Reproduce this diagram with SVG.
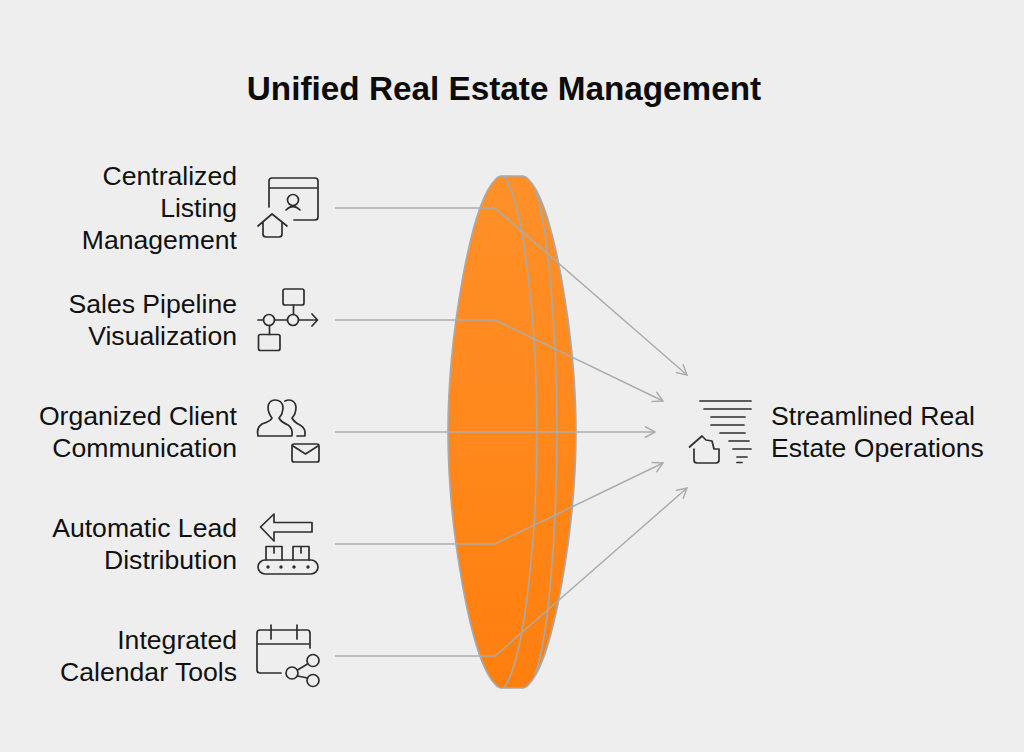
<svg xmlns="http://www.w3.org/2000/svg" width="1024" height="752" viewBox="0 0 1024 752">
<style>
.t{font-family:"Liberation Sans",Arial,sans-serif;font-size:26.6px;fill:#111}
.r{text-anchor:end}
.i{fill:none;stroke:#2e2e2e;stroke-width:1.7;stroke-linecap:round;stroke-linejoin:round}
.c{fill:none;stroke:#acacac;stroke-width:1.5}
.l{fill:none;stroke:#a9a9a5;stroke-width:1.6}
</style>
<defs>
<linearGradient id="g" x1="0" y1="0" x2="0" y2="1"><stop offset="0" stop-color="#ff9029"/><stop offset="1" stop-color="#ff7f0e"/></linearGradient>
<marker id="a" markerWidth="14" markerHeight="14" refX="11" refY="6" orient="auto" markerUnits="userSpaceOnUse"><path d="M1 0.5L11 6L1 11.5" fill="none" stroke="#acacac" stroke-width="1.5"/></marker>
</defs>
<rect width="1024" height="752" fill="#eeeeee"/>
<text x="504" y="99.500" text-anchor="middle" font-family="'Liberation Sans',Arial,sans-serif" font-size="33.3" font-weight="700" fill="#0c0c0c">Unified Real Estate Management</text>
<g id="lens">
<path d="M502 176H522Q526 176 529 180C554 205 576 340 576 432C576 524 554 659 529 684Q526 688 522 688H502Q498 688 495 684C470 659 448 524 448 432C448 340 470 205 495 180Q498 176 502 176Z" fill="url(#g)" stroke="#a9a9a9" stroke-width="1.6"/>
<path class="l" d="M504 176C525 205 537 330 537 432C537 534 525 659 504 688"/>
<path class="l" d="M535 190C549 225 557 340 557 432C557 524 549 639 535 674"/>
</g>
<g id="connectors">
<path class="c" d="M335 208H495L687 375" marker-end="url(#a)"/>
<path class="c" d="M335 320H495L663 401" marker-end="url(#a)"/>
<path class="c" d="M335 432H655" marker-end="url(#a)"/>
<path class="c" d="M335 544H495L663 463" marker-end="url(#a)"/>
<path class="c" d="M335 656H495L687 488" marker-end="url(#a)"/>
</g>
<g id="node-listing">
<text class="t r" x="237" y="184.600">Centralized</text>
<text class="t r" x="237" y="216.600">Listing</text>
<text class="t r" x="237" y="248.600">Management</text>
<path class="i" d="M269 207V181Q269 178 272 178H315Q318 178 318 181V217Q318 220 315 220H294M269 188H318"/>
<circle class="i" cx="293" cy="200" r="5.5"/>
<path class="i" d="M286 210Q293 203 300 210"/>
<path class="i" d="M258 226L272 214L287 226M263 222V234Q263 237 266 237H279Q282 237 282 234V222"/>
</g>
<g id="node-pipeline">
<text class="t r" x="237" y="312.600">Sales Pipeline</text>
<text class="t r" x="237" y="344.600">Visualization</text>
<rect class="i" x="283" y="289" width="21" height="16" rx="2"/>
<rect class="i" x="258.500" y="334.500" width="21.500" height="16" rx="2"/>
<circle class="i" cx="269" cy="320" r="5.500"/>
<circle class="i" cx="293" cy="320" r="5.500"/>
<path class="i" d="M258 320H263.500M274.500 320H287.500M298.500 320H317M312 314L317.500 320L312 326M293.500 305V314.500M269.500 325.500V334.500"/>
</g>
<g id="node-communication">
<text class="t r" x="237" y="424.600">Organized Client</text>
<text class="t r" x="237" y="456.600">Communication</text>
<path class="i" d="M258 436Q256 428 262 424Q271 421 272 418Q268 413 268 407Q269 400 275 400Q282 400 283 407Q283 414 279 418Q281 422 288 425Q293 428 292 436Z"/>
<path class="i" d="M285 401Q287 400 289 400Q295 400 296 407Q296 414 292 418Q294 422 300 425Q306 428 305 436H297"/>
<rect class="i" x="292" y="444" width="27" height="18" rx="2"/>
<path class="i" d="M293 446L305.500 454L318 446"/>
</g>
<g id="node-distribution">
<text class="t r" x="237" y="536.600">Automatic Lead</text>
<text class="t r" x="237" y="568.600">Distribution</text>
<path class="i" d="M260.500 527L274 514V522.500H312V532H274V541Z"/>
<path class="i" d="M266 560V546.500H282V560M293 560V546.500H309V560M274 546.500V553M301 546.500V553"/>
<rect class="i" x="258" y="560" width="60" height="14" rx="7"/>
<g fill="#2e2e2e"><circle cx="268" cy="567" r="1.700"/><circle cx="281" cy="567" r="1.700"/><circle cx="294" cy="567" r="1.700"/><circle cx="308" cy="567" r="1.700"/></g>
</g>
<g id="node-calendar">
<text class="t r" x="237" y="648.600">Integrated</text>
<text class="t r" x="237" y="680.600">Calendar Tools</text>
<path class="i" d="M281 673H260Q257 673 257 670V633Q257 630 260 630H307Q310 630 310 633V648M257 644H310M271 625V639M297 625V639"/>
<circle class="i" cx="292" cy="673" r="6"/>
<circle class="i" cx="313" cy="660.500" r="6"/>
<circle class="i" cx="313" cy="680.500" r="6"/>
<path class="i" d="M297.500 670L307.500 664M297.500 676L307.500 678"/>
</g>
<g id="node-operations">
<text class="t" x="771" y="424.600">Streamlined Real</text>
<text class="t" x="771" y="456.600">Estate Operations</text>
<path class="i" d="M700 401H751M704 409H751M711 417H745M711 425H744M720 433H745M729 441H749M733 449H751M737 457H747M737 462.500H742"/>
<path class="i" d="M689.500 447L702 436L706 440L712 441L714 449L719 449V460Q719 463 716 463H697Q694 463 694 460V449"/>
</g>
</svg>
